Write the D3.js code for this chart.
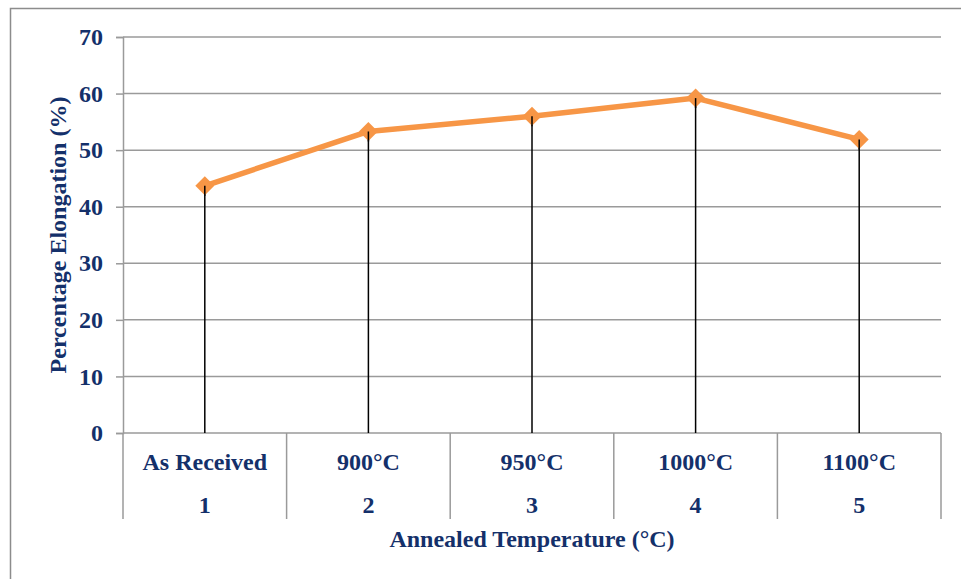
<html>
<head>
<meta charset="utf-8">
<script src="https://d3js.org/d3.v7.min.js"></script>
<style>
  body { margin: 0; background: #fff; }
  svg text { font-family: "Liberation Serif", "Times New Roman", serif; font-weight: bold; fill: #14306a; }
</style>
</head>
<body>
<svg width="961" height="579"></svg>
<script>
// chart data
var categories = ["As Received", "900°C", "950°C", "1000°C", "1100°C"];
var sampleNo = ["1", "2", "3", "4", "5"];
var elongation = [43.7, 53.3, 56.0, 59.2, 51.9];
var yTicks = [0, 10, 20, 30, 40, 50, 60, 70];

var svg = d3.select("svg");
var plotLeft = 123, plotRight = 941, plotTop = 37, plotBottom = 433;

// outer frame
svg.append("rect")
  .attr("x", 10.5).attr("y", 8.5)
  .attr("width", 1000).attr("height", 1000)
  .attr("fill", "none").attr("stroke", "#8c8c8c").attr("stroke-width", 1.5);

var x = d3.scaleBand().domain(categories).range([plotLeft, plotRight]);
var y = d3.scaleLinear().domain([0, 70]).range([plotBottom, plotTop]);
function cx(i) { return x(categories[i]) + x.bandwidth() / 2; }

// gridlines
svg.append("g").selectAll("line")
  .data(yTicks)
  .enter().append("line")
  .attr("x1", plotLeft).attr("x2", plotRight)
  .attr("y1", function(d) { return y(d); })
  .attr("y2", function(d) { return y(d); })
  .attr("stroke", "#9a9a9a").attr("stroke-width", 1.5);

// y axis
var yAxis = svg.append("g")
  .attr("transform", "translate(" + plotLeft + ",0)")
  .call(d3.axisLeft(y).tickValues(yTicks).tickSize(7).tickPadding(13));
yAxis.selectAll("line").attr("stroke", "#9a9a9a").attr("stroke-width", 1.5);
yAxis.select(".domain").attr("stroke", "#9a9a9a").attr("stroke-width", 1.5);
yAxis.selectAll("text")
  .attr("fill", "#14306a")
  .style("font-size", "24px")
  .style("font-family", "'Liberation Serif', serif")
  .style("font-weight", "bold");

// category separators below the axis
var bounds = categories.map(function(c) { return x(c); }).concat([plotRight]);
svg.append("g").selectAll("line")
  .data(bounds)
  .enter().append("line")
  .attr("x1", function(d) { return d; }).attr("x2", function(d) { return d; })
  .attr("y1", plotBottom).attr("y2", 519)
  .attr("stroke", "#9a9a9a").attr("stroke-width", 1.5);

// category labels, two levels
svg.append("g").selectAll("text")
  .data(categories)
  .enter().append("text")
  .attr("x", function(d, i) { return cx(i); })
  .attr("y", 470)
  .attr("text-anchor", "middle")
  .style("font-size", "24px")
  .text(function(d) { return d; });

svg.append("g").selectAll("text")
  .data(sampleNo)
  .enter().append("text")
  .attr("x", function(d, i) { return cx(i); })
  .attr("y", 513)
  .attr("text-anchor", "middle")
  .style("font-size", "24px")
  .text(function(d) { return d; });

// drop lines
svg.append("g").selectAll("line")
  .data(elongation)
  .enter().append("line")
  .attr("x1", function(d, i) { return cx(i); })
  .attr("x2", function(d, i) { return cx(i); })
  .attr("y1", function(d) { return y(d); })
  .attr("y2", plotBottom)
  .attr("stroke", "#000").attr("stroke-width", 1.5);

// the line
var line = d3.line()
  .x(function(d, i) { return cx(i); })
  .y(function(d) { return y(d); });

svg.append("path")
  .datum(elongation)
  .attr("d", line)
  .attr("fill", "none")
  .attr("stroke", "#f79646")
  .attr("stroke-width", 5.5)
  .attr("stroke-linejoin", "round");

// diamond markers
svg.append("g").selectAll("path")
  .data(elongation)
  .enter().append("path")
  .attr("d", d3.symbol().type(d3.symbolSquare).size(180))
  .attr("transform", function(d, i) {
    return "translate(" + cx(i) + "," + y(d) + ") rotate(45)";
  })
  .attr("fill", "#f79646");

// drop line tops stay visible over the markers
svg.append("g").selectAll("line")
  .data(elongation)
  .enter().append("line")
  .attr("x1", function(d, i) { return cx(i); })
  .attr("x2", function(d, i) { return cx(i); })
  .attr("y1", function(d) { return y(d); })
  .attr("y2", function(d) { return y(d) + 10; })
  .attr("stroke", "#000").attr("stroke-width", 1.5);

// axis titles
svg.append("text")
  .attr("x", (plotLeft + plotRight) / 2)
  .attr("y", 547)
  .attr("text-anchor", "middle")
  .style("font-size", "24px")
  .text("Annealed Temperature (°C)");

svg.append("text")
  .attr("transform", "translate(66," + (plotTop + plotBottom) / 2 + ") rotate(-90)")
  .attr("text-anchor", "middle")
  .style("font-size", "24px")
  .text("Percentage Elongation (%)");
</script>
</body>
</html>
